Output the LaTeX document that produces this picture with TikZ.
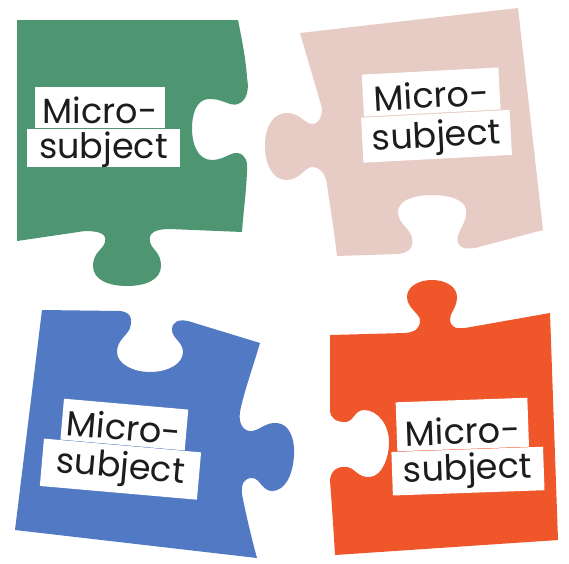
\documentclass[tikz,border=0pt]{standalone}
\usepackage{fontspec}
\setmainfont{Poppins}
\definecolor{pzgreen}{RGB}{78,150,113}
\definecolor{pzpink}{RGB}{231,203,197}
\definecolor{pzblue}{RGB}{82,122,196}
\definecolor{pzorange}{RGB}{239,86,42}
\definecolor{pztext}{RGB}{28,28,30}
\begin{document}
\begin{tikzpicture}[x=1pt,y=-1pt,
  lbl/.style={fill=white,text=pztext,font=\fontsize{35}{35}\selectfont,inner ysep=0pt,anchor=base}]
\useasboundingbox (0,0) rectangle (569,563);
\fill[white] (0,0) rectangle (569,563);

% green piece
\fill[pzgreen] (17,20) -- (238,20)
  .. controls (242,40) and (246,60) .. (247,78)
  .. controls (249,88) and (248,100) .. (238,104)
  .. controls (230,107) and (222,98) .. (208,99)
  .. controls (196,100) and (192,115) .. (192,128)
  .. controls (192,145) and (198,160) .. (212,160)
  .. controls (224,160) and (230,152) .. (238,153)
  .. controls (246,155) and (248,162) .. (247,172)
  .. controls (246,195) and (243,215) .. (242,232)
  -- (170,229)
  .. controls (155,229) and (148,233) .. (150,242)
  .. controls (152,250) and (161,252) .. (161,266)
  .. controls (161,280) and (145,286) .. (127,286)
  .. controls (109,286) and (93,280) .. (93,266)
  .. controls (93,252) and (103,250) .. (105,242)
  .. controls (107,234) and (100,231) .. (85,231)
  -- (17,241) -- cycle;

% pink piece
\fill[pzpink] (300,33) -- (518,8) -- (543,230) -- (475,248)
  .. controls (462,250) and (456,246) .. (458,236)
  .. controls (460,228) and (467,222) .. (466,210)
  .. controls (465,200) and (450,195) .. (432,195)
  .. controls (414,195) and (398,200) .. (398,212)
  .. controls (398,224) and (410,228) .. (412,238)
  .. controls (414,248) and (408,253) .. (398,254)
  -- (337,256)
  .. controls (334,230) and (330,205) .. (327,185)
  .. controls (326,174) and (320,167) .. (312,167)
  .. controls (305,167) and (300,180) .. (286,180)
  .. controls (272,180) and (265,163) .. (265,146)
  .. controls (265,128) and (272,113) .. (287,113)
  .. controls (300,113) and (305,124) .. (312,124)
  .. controls (319,124) and (322,117) .. (322,108)
  -- cycle;

% blue piece
\fill[pzblue] (42,310) -- (120,311)
  .. controls (130,312) and (133,318) .. (130,328)
  .. controls (127,336) and (117,340) .. (117,352)
  .. controls (117,364) and (133,372) .. (150,372)
  .. controls (168,372) and (183,364) .. (183,352)
  .. controls (183,342) and (172,338) .. (172,330)
  .. controls (172,322) and (178,319) .. (188,321)
  -- (260,343)
  .. controls (252,370) and (243,395) .. (240,412)
  .. controls (238,424) and (244,432) .. (252,431)
  .. controls (260,430) and (266,422) .. (277,423)
  .. controls (290,424) and (295,440) .. (294,455)
  .. controls (293,475) and (285,491) .. (272,491)
  .. controls (262,491) and (260,478) .. (252,478)
  .. controls (244,478) and (241,484) .. (242,494)
  .. controls (246,515) and (252,540) .. (257,558)
  -- (15,530) -- cycle;

% orange piece
\fill[pzorange] (330,335) -- (405,333)
  .. controls (416,332) and (420,328) .. (420,320)
  .. controls (420,314) and (407,308) .. (407,297)
  .. controls (407,287) and (418,280) .. (432,280)
  .. controls (446,280) and (457,287) .. (457,297)
  .. controls (457,308) and (449,314) .. (450,320)
  .. controls (451,327) and (455,329) .. (465,328)
  -- (550,313) -- (558,540) -- (335,555)
  .. controls (333,520) and (331,495) .. (330,480)
  .. controls (331,470) and (338,466) .. (347,467)
  .. controls (355,468) and (358,478) .. (370,477)
  .. controls (382,476) and (389,458) .. (389,442)
  .. controls (389,425) and (378,410) .. (364,410)
  .. controls (354,410) and (354,422) .. (345,422)
  .. controls (336,422) and (330,418) .. (330,410)
  -- cycle;

% labels
\node[lbl,text height=36pt,text depth=5pt,inner xsep=8pt] (gm) at (100,123) {Micro-};
\node[lbl,text height=29.5pt,text depth=9pt,inner xsep=12.5pt] (gs) at (103.5,158) {subject};

\begin{scope}[shift={(432,108)},rotate=3,transform shape]
\node[lbl,text height=37pt,text depth=5pt,inner xsep=11pt] (pm) at (0,0) {Micro-};
\node[lbl,text height=33pt,text depth=12pt,inner xsep=10pt] (ps) at (3,39) {subject};
\end{scope}

\begin{scope}[shift={(123,440)},rotate=-5,transform shape]
\node[lbl,text height=36pt,text depth=5pt,inner xsep=5pt] (bm) at (0,0) {Micro-};
\node[lbl,text height=32.5pt,text depth=15pt,inner xsep=14.5pt] (bs) at (0,38) {subject};
\end{scope}

\begin{scope}[shift={(463,444)},rotate=2,transform shape]
\node[lbl,text height=44pt,text depth=5pt,inner xsep=8.5pt] (om) at (0,0) {Micro-};
\node[lbl,text height=30.5pt,text depth=13pt,inner xsep=11.5pt] (os) at (4,36) {subject};
\end{scope}
\end{tikzpicture}
\end{document}
